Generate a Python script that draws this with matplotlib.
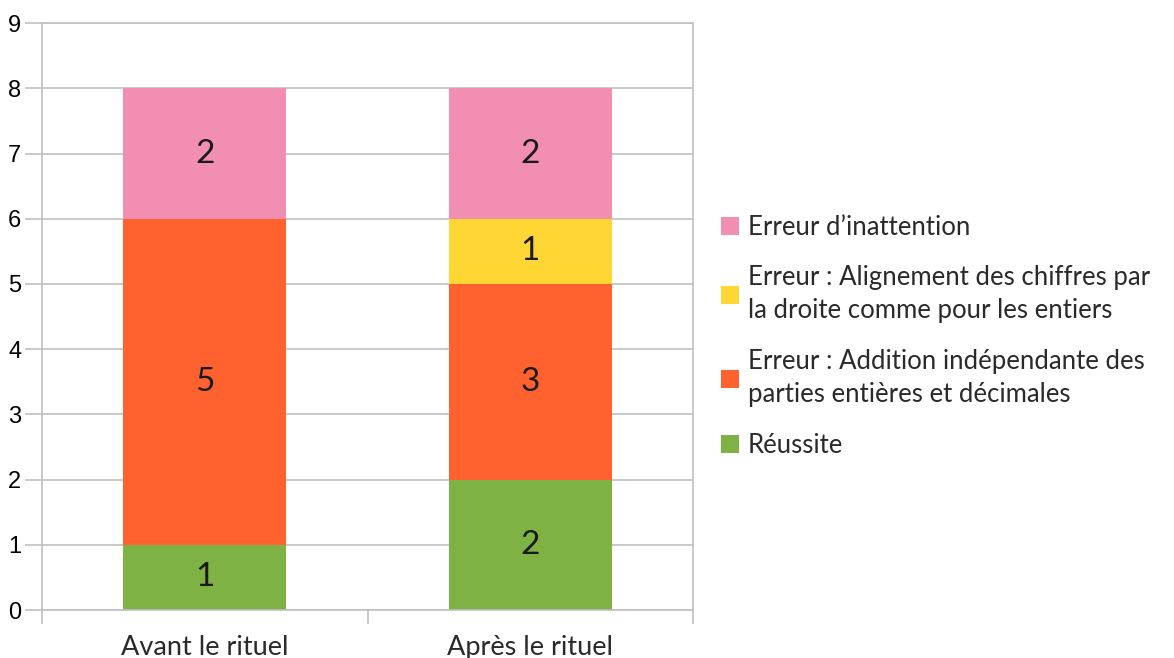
import matplotlib.pyplot as plt
import numpy as np

categories = ["Avant le rituel", "Après le rituel"]
reussite = [1, 2]
addition = [5, 3]
alignement = [0, 1]
inattention = [2, 2]

series_names = [
    "Réussite",
    "Erreur : Addition indépendante des\nparties entières et décimales",
    "Erreur : Alignement des chiffres par\nla droite comme pour les entiers",
    "Erreur d’inattention",
]
colors = ["#7EB244", "#FF612F", "#FFD633", "#F28EB2"]

plt.rcParams['font.family'] = ['Lato', 'DejaVu Sans']

fig = plt.figure(figsize=(11.74, 6.58), dpi=100)
ax = fig.add_axes([0.0358, 0.0729, 0.5545, 0.892])

x = np.arange(len(categories))
bottom = np.zeros(len(categories))
handles = []
for vals, name, col in zip([reussite, addition, alignement, inattention], series_names, colors):
    vals = np.array(vals, dtype=float)
    bars = ax.bar(x, vals, width=0.5, bottom=bottom, color=col, label=name, zorder=2)
    handles.append(bars)
    for xi, v, b in zip(x, vals, bottom):
        if v > 0:
            ax.text(xi, b + v / 2, f"{int(v)}", ha='center', va='center',
                    fontsize=24, color='#1a1a1a')
    bottom += vals

ax.set_xlim(-0.5, 1.5)
ax.set_ylim(0, 9)
ax.set_yticks(range(0, 10))
ax.set_yticklabels([str(i) for i in range(10)], family='Liberation Sans', fontsize=17)
ax.yaxis.grid(True, color='#c0c0c0', linewidth=1.2, zorder=0)
ax.tick_params(axis='y', length=12, color='#c0c0c0', width=1.2, pad=3)

ax.set_xticks([-0.5, 0.5, 1.5], minor=False)
ax.set_xticklabels([])
ax.set_xticks(x, minor=True)
ax.set_xticklabels(categories, minor=True, fontsize=19.5, color='#2a2a2a')
ax.tick_params(axis='x', which='minor', length=0, pad=18)
ax.tick_params(axis='x', which='major', length=10, color='#c0c0c0', width=1.2)

for s in ax.spines.values():
    s.set_color('#c0c0c0')
    s.set_linewidth(1.2)

leg = fig.legend(handles[::-1], series_names[::-1], loc='center left',
                 bbox_to_anchor=(0.603, 0.489), frameon=False, fontsize=18.5,
                 handlelength=0.7, handleheight=0.7, handletextpad=0.35,
                 labelspacing=1.0, borderpad=0)
for t in leg.get_texts():
    t.set_color('#2a2a2a')
    t.set_linespacing(1.4)

fig.savefig("out.png", dpi=100)
